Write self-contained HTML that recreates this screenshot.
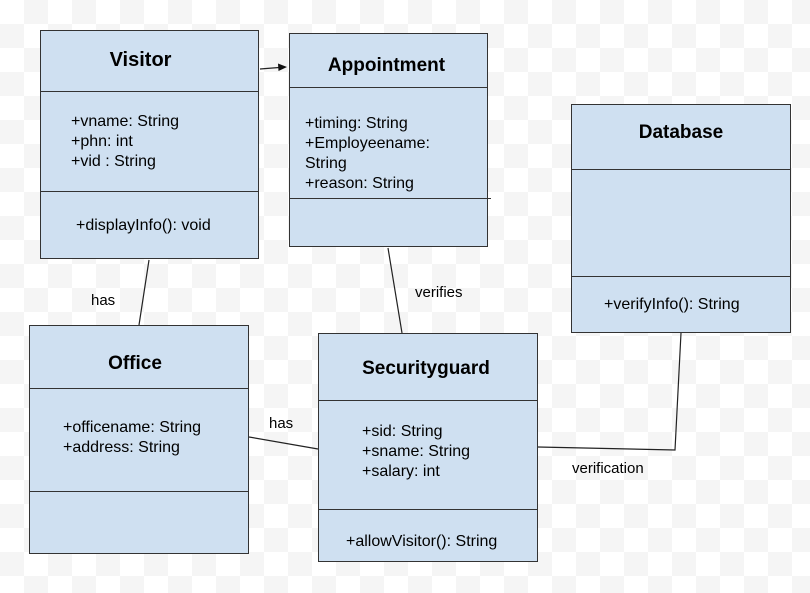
<!DOCTYPE html>
<html><head><style>
body{margin:0;width:810px;height:593px;overflow:hidden;font-family:"Liberation Sans",Arial,sans-serif;
background-color:#fff;background-image:linear-gradient(45deg,#f5f5f5 25%,transparent 25%,transparent 75%,#f5f5f5 75%),linear-gradient(45deg,#f5f5f5 25%,transparent 25%,transparent 75%,#f5f5f5 75%);background-size:48px 48px;background-position:0 0,24px 24px;}
.b{position:absolute;background:#cfe0f1;border:1px solid #333;box-sizing:border-box}
.t{position:absolute;left:0;right:0;text-align:center;font-weight:bold;font-size:19px;color:#000}
.d{position:absolute;left:0;right:0;border-top:1px solid #333}
.a{position:absolute;font-size:16px;line-height:20px;color:#000}
.l{position:absolute;font-size:15px;color:#000}
</style></head><body>
<div class="b" style="left:40px;top:30px;width:219px;height:229px">
<div class="t" style="top:18px;font-size:20px;right:18px">Visitor</div><div class="d" style="top:60px"></div>
<div class="a" style="left:30px;top:81px">+vname: String<br>+phn: int<br>+vid : String</div>
<div class="d" style="top:160px"></div>
<div class="a" style="left:35px;top:185px">+displayInfo(): void</div></div>
<div class="b" style="left:289px;top:33px;width:199px;height:214px">
<div class="t" style="top:21px;font-size:19px;right:4px">Appointment</div><div class="d" style="top:53px"></div>
<div class="a" style="left:15px;top:80px">+timing: String<br>+Employeename:<br>String<br>+reason: String</div>
<div class="d" style="top:164px;right:-4px"></div></div>
<div class="b" style="left:571px;top:104px;width:220px;height:229px">
<div class="t" style="top:17px;font-size:19px">Database</div><div class="d" style="top:64px"></div>
<div class="d" style="top:171px"></div>
<div class="a" style="left:32px;top:190px">+verifyInfo(): String</div></div>
<div class="b" style="left:29px;top:325px;width:220px;height:229px">
<div class="t" style="top:27px;font-size:19px;right:8px">Office</div><div class="d" style="top:62px"></div>
<div class="a" style="left:33px;top:92px">+officename: String<br>+address: String</div>
<div class="d" style="top:165px"></div></div>
<div class="b" style="left:318px;top:333px;width:220px;height:229px">
<div class="t" style="top:24px;font-size:19px;right:4px">Securityguard</div><div class="d" style="top:66px"></div>
<div class="a" style="left:43px;top:88px">+sid: String<br>+sname: String<br>+salary: int</div>
<div class="d" style="top:175px"></div>
<div class="a" style="left:27px;top:198px">+allowVisitor(): String</div></div>
<svg width="810" height="593" style="position:absolute;left:0;top:0">
<g stroke="#222" stroke-width="1.2" fill="none">
<line x1="260" y1="69" x2="279" y2="67.5"/>
<line x1="149" y1="260" x2="139" y2="325"/>
<line x1="388" y1="248" x2="402" y2="333"/>
<line x1="249" y1="437" x2="318" y2="449"/>
<polyline points="538,447 675,450 681,333"/>
</g>
<polygon points="287,67 278,63.5 278.5,71" fill="#111"/>
</svg>
<div class="l" style="left:91px;top:292px">has</div>
<div class="l" style="left:415px;top:284px">verifies</div>
<div class="l" style="left:269px;top:415px">has</div>
<div class="l" style="left:572px;top:460px">verification</div>
</body></html>
